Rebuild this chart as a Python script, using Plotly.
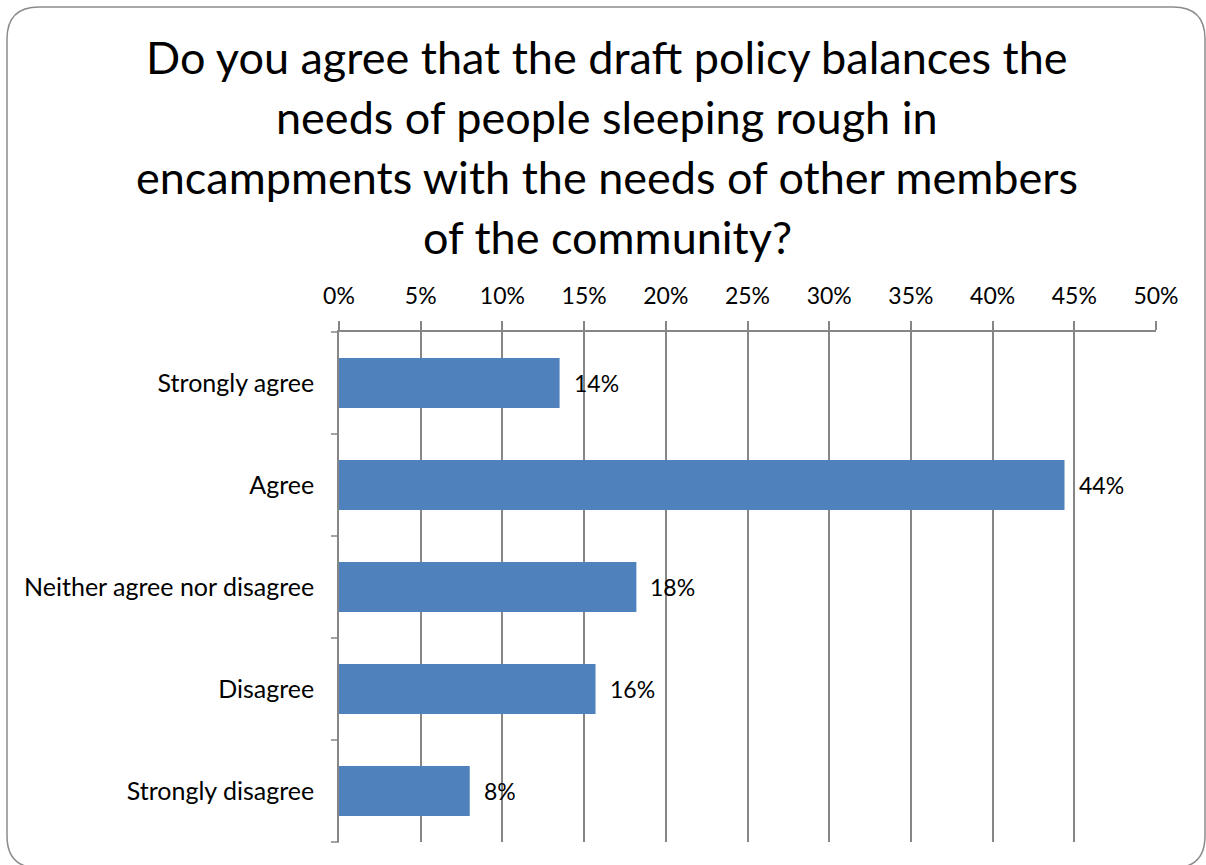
import plotly.graph_objects as go

categories = ["Strongly agree", "Agree", "Neither agree nor disagree", "Disagree", "Strongly disagree"]
values = [13.5, 44.4, 18.2, 15.7, 8.0]
labels = ["14%", "44%", "18%", "16%", "8%"]
tick_vals = [0, 5, 10, 15, 20, 25, 30, 35, 40, 45, 50]
tick_text = ["0%", "5%", "10%", "15%", "20%", "25%", "30%", "35%", "40%", "45%", "50%"]
title_lines = ["Do you agree that the draft policy balances the",
               "needs of people sleeping rough in",
               "encampments with the needs of other members",
               "of the community?"]

W, H = 1206, 865
L, R, T, B = 339, 50, 332, 23
FONT = "Lato, Noto Sans, sans-serif"

pw, ph = W - L - R, H - T - B
def px(X):
    return (X - L) / pw
def py(Y):
    return (H - B - Y) / ph

fig = go.Figure()
fig.add_trace(go.Bar(
    y=categories, x=values, orientation="h",
    marker=dict(color="#4F81BD", line=dict(width=0)),
    width=0.49, showlegend=False, hoverinfo="skip",
))

for c, v, t in zip(categories, values, labels):
    fig.add_annotation(x=v, y=c, text=t, showarrow=False, xanchor="left",
                       xshift=12, font=dict(size=23, color="#000000", family=FONT))

# title lines
for i, line in enumerate(title_lines):
    fig.add_annotation(x=px(607), y=py(57 + 60 * i), xref="paper", yref="paper",
                       text=line, showarrow=False, xanchor="center", yanchor="middle",
                       font=dict(size=45, color="#000000", family=FONT))

# rounded frame
x0, x1, y0, y1, r = 7, 1205, 7, 868, 32
path = (f"M {px(x0 + r)},{py(y0)} L {px(x1 - r)},{py(y0)} Q {px(x1)},{py(y0)} {px(x1)},{py(y0 + r)} "
        f"L {px(x1)},{py(y1 - r)} Q {px(x1)},{py(y1)} {px(x1 - r)},{py(y1)} "
        f"L {px(x0 + r)},{py(y1)} Q {px(x0)},{py(y1)} {px(x0)},{py(y1 - r)} "
        f"L {px(x0)},{py(y0 + r)} Q {px(x0)},{py(y0)} {px(x0 + r)},{py(y0)} Z")
fig.add_shape(type="path", path=path, xref="paper", yref="paper",
              line=dict(color="#8C8C8C", width=1.5), layer="below")

fig.update_layout(
    width=W, height=H,
    margin=dict(l=L, r=R, t=T, b=B),
    paper_bgcolor="white", plot_bgcolor="white",
    xaxis=dict(side="top", range=[0, 50], tickvals=tick_vals, ticktext=tick_text,
               showgrid=True, gridcolor="#868686", gridwidth=1.5,
               ticks="outside", ticklen=9, tickcolor="#868686", tickwidth=1.5,
               showline=True, linecolor="#868686", linewidth=1.5,
               zeroline=False, fixedrange=True, ticklabelstandoff=8,
               tickfont=dict(size=23, color="#000000", family=FONT)),
    yaxis=dict(autorange="reversed", categoryorder="array", categoryarray=categories,
               showline=True, linecolor="#868686", linewidth=1.5,
               ticks="", showgrid=False, ticklabelstandoff=18,
               tickfont=dict(size=25, color="#000000", family=FONT)),
    bargap=0.51,
)

# category boundary tick marks on the y axis
for i in range(len(categories) + 1):
    fig.add_shape(type="line", xref="paper", yref="paper",
                  x0=-8 / pw, x1=0, y0=i / len(categories), y1=i / len(categories),
                  line=dict(color="#868686", width=1.5))

fig.write_html("out.html")
